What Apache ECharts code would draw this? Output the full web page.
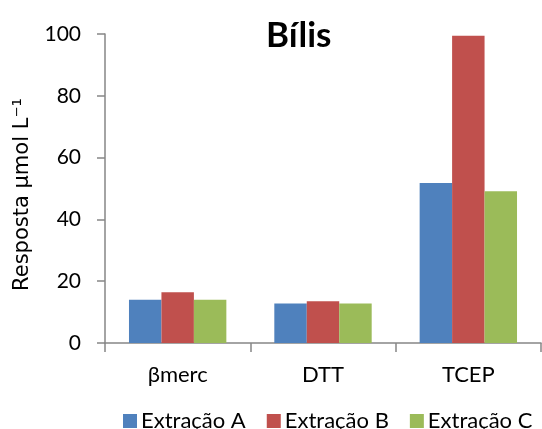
<!DOCTYPE html>
<html>
<head>
<meta charset="utf-8">
<script src="https://cdn.jsdelivr.net/npm/echarts@6/dist/echarts.min.js"></script>
<style>
  html, body { margin: 0; padding: 0; background: #fff; }
  #chart { width: 542px; height: 429px; }
</style>
</head>
<body>
<div id="chart"></div>
<script>
// Reagent categories and measured responses (µmol L⁻¹) per extraction
const categories = ['βmerc', 'DTT', 'TCEP'];
const extracaoA = [14.0, 12.8, 51.8];
const extracaoB = [16.4, 13.5, 99.4];
const extracaoC = [14.0, 12.8, 49.1];
const seriesNames = ['Extração A', 'Extração B', 'Extração C'];
const seriesColors = ['#4F81BD', '#C0504D', '#9BBB59'];
const yTicks = { min: 0, max: 100, interval: 20 };

const font = 'Lato, "Open Sans", sans-serif';
const axisGray = '#868686';

const chart = echarts.init(document.getElementById('chart'), null, { renderer: 'canvas' });

const values = [extracaoA, extracaoB, extracaoC];

chart.setOption({
  animation: false,
  backgroundColor: '#ffffff',
  title: {
    text: 'Bílis',
    left: 261,
    top: 13,
    textStyle: { fontFamily: font, fontWeight: 'bold', fontSize: 35, color: '#000' }
  },
  legend: {
    data: seriesNames,
    top: 405,
    left: 118,
    itemWidth: 14,
    itemHeight: 14,
    itemGap: 21,
    icon: 'rect',
    textStyle: { fontFamily: font, fontSize: 22, color: '#000', padding: [0, 0, 0, -1] }
  },
  grid: { left: 105, right: 1, top: 34, bottom: 86, containLabel: false },
  xAxis: {
    type: 'category',
    data: categories,
    axisLine: { lineStyle: { color: axisGray, width: 1.5 } },
    axisTick: { show: true, length: 9, interval: 0, lineStyle: { color: axisGray, width: 1.5 } },
    axisLabel: { fontFamily: font, fontSize: 22, color: '#000', margin: 21 },
    splitLine: { show: false }
  },
  yAxis: {
    type: 'value',
    min: yTicks.min,
    max: yTicks.max,
    interval: yTicks.interval,
    name: 'Resposta µmol L⁻¹',
    nameLocation: 'middle',
    nameRotate: 90,
    nameGap: 72,
    nameTextStyle: { fontFamily: '"DejaVu Sans", sans-serif', fontSize: 21, color: '#000', padding: [0, 12, 0, 0] },
    axisLine: { show: true, lineStyle: { color: axisGray, width: 1.5 } },
    axisTick: { show: true, length: 8, lineStyle: { color: axisGray, width: 1.5 } },
    axisLabel: { fontFamily: font, fontSize: 21, color: '#000', margin: 24 },
    splitLine: { show: false }
  },
  series: seriesNames.map((name, i) => ({
    name: name,
    type: 'bar',
    data: values[i],
    barGap: '0%',
    barCategoryGap: '33%',
    itemStyle: { color: seriesColors[i] }
  }))
});
</script>
</body>
</html>
